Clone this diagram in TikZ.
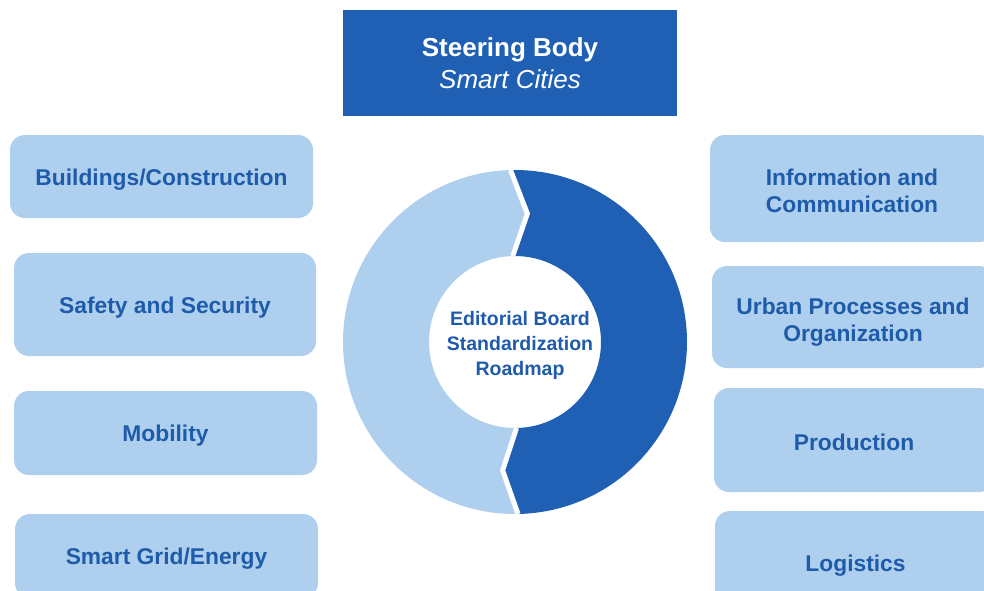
\documentclass[tikz,border=0pt]{standalone}
\usepackage{fontspec}
\setmainfont{Liberation Sans}
\definecolor{dkblue}{RGB}{31,96,181}
\definecolor{ltblue}{RGB}{174,208,238}
\definecolor{txtblue}{RGB}{30,91,170}
\begin{document}
\begin{tikzpicture}[x=1pt,y=-1pt,
  box/.style={fill=ltblue, rounded corners=15pt, inner sep=0pt},
  boxtext/.style={text=txtblue, align=center, inner sep=0pt,
    font=\fontsize{22.8}{26.5}\selectfont\bfseries},
  titlebox/.style={fill=dkblue, text=white, align=center, inner sep=0pt,
    font=\fontsize{26}{31.5}\selectfont},
  centertext/.style={text=txtblue, align=center, inner sep=0pt,
    font=\fontsize{19.5}{25}\selectfont\bfseries},
  gapline/.style={white, line width=5pt, line join=miter}
]
\useasboundingbox (0,0) rectangle (984,590);
\clip (0,0) rectangle (984,590);

% title
\node[titlebox, minimum width=334pt, minimum height=106pt] (sb) at (510,63)
  {\textbf{Steering Body}\\\textit{Smart Cities}};

% left boxes
\node[box, minimum width=303pt, minimum height=83pt]  (b1) at (161.5,176.5) {};
\node[box, minimum width=302pt, minimum height=103pt] (b2) at (165,304.5) {};
\node[box, minimum width=303pt, minimum height=84pt]  (b3) at (165.5,433) {};
\node[box, minimum width=303pt, minimum height=84pt]  (b4) at (166.5,556) {};
\node[boxtext, yshift=-3pt] (t1) at (b1) {Buildings/Construction};
\node[boxtext, yshift=-3pt] (t2) at (b2) {Safety and Security};
\node[boxtext, yshift=-3pt] (t3) at (b3) {Mobility};
\node[boxtext, yshift=-3pt] (t4) at (b4) {Smart Grid/Energy};

% right boxes
\node[box, minimum width=284pt, minimum height=107pt] (r1) at (852,188.5) {};
\node[box, minimum width=282pt, minimum height=102pt] (r2) at (853,317) {};
\node[box, minimum width=280pt, minimum height=104pt] (r3) at (854,440) {};
\node[box, minimum width=281pt, minimum height=104pt] (r4) at (855.5,563) {};
\node[boxtext, yshift=-2.5pt] (u1) at (r1) {Information and\\Communication};
\node[boxtext, yshift=-5pt]   (u2) at (r2) {Urban Processes and\\Organization};
\node[boxtext, yshift=-2pt]   (u3) at (r3) {Production};
\node[boxtext, yshift=-3pt]   (u4) at (r4) {Logistics};

% ring
\begin{scope}[shift={(515,342)}, yscale=-1]
  \fill[ltblue] (91.5:172) arc[start angle=91.5, end angle=271, radius=172]
    -- (264.5:129) -- (271:86) arc[start angle=271, end angle=91.5, radius=86]
    -- (84.5:129) -- cycle;
  \fill[dkblue] (91.5:172) arc[start angle=91.5, end angle=-89, radius=172]
    -- (-95.5:129) -- (-89:86) arc[start angle=-89, end angle=91.5, radius=86]
    -- (84.5:129) -- cycle;
  \draw[gapline] (91.5:172) -- (84.5:129) -- (91.5:86);
  \draw[gapline] (271:172) -- (264.5:129) -- (271:86);
\end{scope}

\node[centertext, yshift=-2pt] (eb) at (520,343) {Editorial Board\\Standardization\\Roadmap};
\end{tikzpicture}
\end{document}
